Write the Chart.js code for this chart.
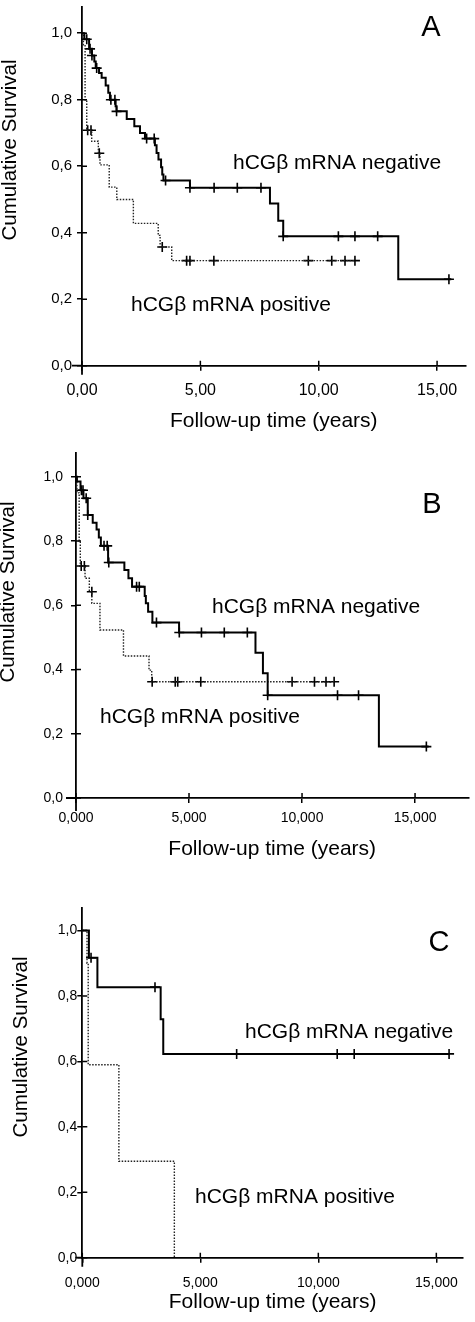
<!DOCTYPE html>
<html>
<head>
<meta charset="utf-8">
<script src="https://cdn.jsdelivr.net/npm/chart.js@4.4.1/dist/chart.umd.min.js"></script>
<style>
  body { margin: 0; background: #fff; }
  #wrap { position: relative; width: 475px; height: 1322px; }
  canvas { position: absolute; left: 0; }
</style>
</head>
<body>
<div id="wrap">
  <canvas id="chart_a" width="475" height="440" style="top:0px"></canvas>
  <canvas id="chart_b" width="475" height="430" style="top:440px"></canvas>
  <canvas id="chart_c" width="475" height="452" style="top:870px"></canvas>
</div>
<script>
const FONT = '"Liberation Sans", Arial, Helvetica, sans-serif';

// axis ticks
const yTickValues = [0, 0.2, 0.4, 0.6, 0.8, 1.0];
const yTickLabels = ["0,0", "0,2", "0,4", "0,6", "0,8", "1,0"];
const xTickValues = [0, 5, 10, 15];
const xTickLabelsA = ["0,00", "5,00", "10,00", "15,00"];
const xTickLabelsBC = ["0,000", "5,000", "10,000", "15,000"];

// panel A  (step points: time of the drop, survival after it)
const aNegTime = [0, 0.10, 0.30, 0.42, 0.52, 0.58, 0.72, 0.83, 1.00, 1.11, 1.18, 1.42, 1.46, 1.89, 2.21, 2.45, 2.66, 3.08, 3.15, 3.23, 3.34, 3.39, 3.44, 4.56, 7.94, 8.29, 8.50, 13.36, 15.6];
const aNegSurv = [1.0, 0.982, 0.953, 0.933, 0.915, 0.895, 0.880, 0.866, 0.843, 0.821, 0.800, 0.780, 0.765, 0.742, 0.720, 0.700, 0.683, 0.663, 0.640, 0.620, 0.597, 0.575, 0.557, 0.535, 0.488, 0.436, 0.389, 0.260, 0.260];
const aNegCensTime = [0.20, 0.34, 0.42, 0.62, 1.22, 1.39, 1.46, 2.73, 3.05, 3.53, 4.56, 5.58, 6.56, 7.56, 8.50, 10.83, 11.53, 12.49, 15.50];
const aNegCensSurv = [0.982, 0.953, 0.933, 0.895, 0.800, 0.800, 0.765, 0.683, 0.683, 0.557, 0.535, 0.535, 0.535, 0.535, 0.389, 0.389, 0.389, 0.389, 0.260];
const aPosTime = [0, 0.06, 0.13, 0.20, 0.41, 0.69, 0.76, 1.15, 1.47, 2.17, 3.22, 3.30, 3.79, 11.53];
const aPosSurv = [1.0, 0.965, 0.800, 0.708, 0.675, 0.639, 0.604, 0.537, 0.500, 0.428, 0.392, 0.357, 0.316, 0.316];
const aPosCensTime = [0.24, 0.38, 0.73, 3.39, 4.42, 4.56, 5.57, 9.56, 10.55, 11.11, 11.53];
const aPosCensSurv = [0.708, 0.708, 0.639, 0.357, 0.316, 0.316, 0.316, 0.316, 0.316, 0.316, 0.316];

// panel B
const bNegTime = [0, 0.04, 0.20, 0.33, 0.52, 0.74, 0.91, 1.01, 1.10, 1.42, 2.14, 2.32, 2.48, 3.04, 3.09, 3.19, 3.38, 4.56, 7.94, 8.27, 8.48, 13.40, 15.60];
const bNegSurv = [1.0, 0.985, 0.958, 0.933, 0.881, 0.857, 0.836, 0.811, 0.785, 0.733, 0.710, 0.684, 0.658, 0.629, 0.606, 0.580, 0.546, 0.515, 0.452, 0.388, 0.320, 0.160, 0.160];
const bNegCensTime = [0.24, 0.31, 0.45, 0.52, 1.24, 1.38, 1.45, 2.68, 2.80, 3.56, 4.57, 5.55, 6.56, 7.58, 8.48, 11.57, 12.50, 15.50];
const bNegCensSurv = [0.958, 0.958, 0.933, 0.881, 0.785, 0.785, 0.733, 0.658, 0.658, 0.546, 0.515, 0.515, 0.515, 0.515, 0.320, 0.320, 0.320, 0.160];
const bPosTime = [0, 0.04, 0.14, 0.19, 0.40, 0.59, 0.70, 1.06, 2.10, 3.23, 3.35, 11.42];
const bPosSurv = [1.0, 0.950, 0.800, 0.722, 0.684, 0.642, 0.606, 0.523, 0.442, 0.398, 0.362, 0.362];
const bPosCensTime = [0.23, 0.37, 0.70, 3.37, 4.39, 4.50, 5.52, 9.56, 10.55, 11.06, 11.42];
const bPosCensSurv = [0.722, 0.722, 0.642, 0.362, 0.362, 0.362, 0.362, 0.362, 0.362, 0.362, 0.362];

// panel C
const cNegTime = [0, 0.28, 0.64, 3.32, 3.43, 15.54];
const cNegSurv = [1.0, 0.917, 0.827, 0.729, 0.623, 0.623];
const cNegCensTime = [0.37, 3.08, 6.54, 10.80, 11.52, 15.54];
const cNegCensSurv = [0.917, 0.827, 0.623, 0.623, 0.623, 0.623];
const cPosTime = [0, 0.20, 0.25, 1.55, 3.90];
const cPosSurv = [1.0, 0.900, 0.590, 0.295, 0.0];
const cPosCensTime = [];
const cPosCensSurv = [];

const NEG_LABEL = "hCGβ mRNA negative";
const POS_LABEL = "hCGβ mRNA positive";

function pts(t, s) {
    return t.map((x, i) => ({ x: x, y: s[i] }));
}

// axis overshoot, inner half of the ticks, panel letter and curve labels
function decor(p) {
    return {
        id: "decor",
        afterDraw(chart) {
            const ctx = chart.ctx;
            const { left, bottom } = chart.chartArea;
            const xs = chart.scales.x;
            const ys = chart.scales.y;
            ctx.save();
            ctx.strokeStyle = "#000";
            ctx.lineWidth = 1.8;
            ctx.beginPath();
            ctx.moveTo(left, bottom);
            ctx.lineTo(left, bottom + p.overY);
            ctx.moveTo(left, bottom);
            ctx.lineTo(left - p.overX, bottom);
            ctx.stroke();
            ctx.lineWidth = 1.5;
            ctx.beginPath();
            ys.ticks.forEach((t) => {
                const py = ys.getPixelForValue(t.value);
                ctx.moveTo(left, py);
                ctx.lineTo(left + 5, py);
            });
            xs.ticks.forEach((t) => {
                const px = xs.getPixelForValue(t.value);
                ctx.moveTo(px, bottom);
                ctx.lineTo(px, bottom - 5);
            });
            ctx.stroke();

            ctx.fillStyle = "#000";
            ctx.textBaseline = "middle";
            p.texts.forEach((t) => {
                ctx.font = t.size + "px " + FONT;
                ctx.textAlign = t.align || "left";
                ctx.fillText(t.text, t.x, t.y);
            });

            ctx.translate(p.yTitle.x, p.yTitle.y);
            ctx.rotate(-Math.PI / 2);
            ctx.textAlign = "center";
            ctx.font = "20.5px " + FONT;
            ctx.fillText("Cumulative Survival", 0, 0);
            ctx.restore();
        },
    };
}

function makeChart(canvas, p) {
    return new Chart(canvas, {
        type: "line",
        data: {
            datasets: [
                {
                    data: pts(p.negTime, p.negSurv),
                    stepped: true,
                    borderColor: "#000",
                    borderWidth: 2,
                    pointRadius: 0,
                    clip: false,
                },
                {
                    data: pts(p.posTime, p.posSurv),
                    stepped: true,
                    borderColor: "#222",
                    borderWidth: 1.4,
                    borderDash: [1.5, 1.5],
                    pointRadius: 0,
                    clip: false,
                },
                {
                    data: pts(p.negCensTime, p.negCensSurv),
                    showLine: false,
                    pointStyle: "cross",
                    pointRadius: 5,
                    pointBorderWidth: 1.6,
                    pointBorderColor: "#000",
                    clip: false,
                },
                {
                    data: pts(p.posCensTime, p.posCensSurv),
                    showLine: false,
                    pointStyle: "cross",
                    pointRadius: 5,
                    pointBorderWidth: 1.6,
                    pointBorderColor: "#000",
                    clip: false,
                },
            ],
        },
        options: {
            responsive: false,
            animation: false,
            events: [],
            layout: {
                padding: { left: 0, top: p.top, right: 475 - p.right, bottom: 0 },
            },
            plugins: {
                legend: { display: false },
                tooltip: { enabled: false },
            },
            scales: {
                x: {
                    type: "linear",
                    min: 0,
                    max: p.xMax,
                    afterBuildTicks: (s) => {
                        s.ticks = xTickValues.map((v) => ({ value: v }));
                    },
                    afterFit: (s) => {
                        s.height = p.height - p.bottom;
                        s.paddingLeft = 0;
                        s.paddingRight = 0;
                    },
                    ticks: {
                        callback: (v, i) => p.xLabels[i],
                        font: { family: FONT, size: p.xTickSize },
                        color: "#000",
                        padding: p.xTickPad,
                        maxRotation: 0,
                        autoSkip: false,
                    },
                    grid: {
                        display: true,
                        drawOnChartArea: false,
                        drawTicks: true,
                        tickLength: 5,
                        color: "#000",
                        lineWidth: 1.5,
                    },
                    border: { display: true, color: "#000", width: 1.8 },
                    title: {
                        display: true,
                        text: "Follow-up time (years)",
                        font: { family: FONT, size: 21 },
                        color: "#000",
                        padding: { top: 0, bottom: p.xTitlePad },
                    },
                },
                y: {
                    type: "linear",
                    min: 0,
                    max: p.yMax,
                    afterBuildTicks: (s) => {
                        s.ticks = yTickValues.map((v) => ({ value: v }));
                    },
                    afterFit: (s) => {
                        s.width = p.left;
                        s.paddingTop = 0;
                        s.paddingBottom = 0;
                    },
                    ticks: {
                        callback: (v, i) => yTickLabels[i],
                        font: { family: FONT, size: p.yTickSize },
                        color: "#000",
                        padding: p.yTickPad,
                        autoSkip: false,
                    },
                    grid: {
                        display: true,
                        drawOnChartArea: false,
                        drawTicks: true,
                        tickLength: 5,
                        color: "#000",
                        lineWidth: 1.5,
                    },
                    border: { display: true, color: "#000", width: 1.8 },
                },
            },
        },
        plugins: [decor(p)],
    });
}

makeChart(document.getElementById("chart_a"), {
    negTime: aNegTime, negSurv: aNegSurv, negCensTime: aNegCensTime, negCensSurv: aNegCensSurv,
    posTime: aPosTime, posSurv: aPosSurv, posCensTime: aPosCensTime, posCensSurv: aPosCensSurv,
    xLabels: xTickLabelsA,
    height: 440, left: 82, top: 1, bottom: 365.7, right: 465.5, xMax: 16.2, yMax: 1.08,
    xTickSize: 16, xTickPad: 10, yTickSize: 15, yTickPad: 5, xTitlePad: 6,
    overX: 10, overY: 9,
    yTitle: { x: 10, y: 150 },
    texts: [
        { text: "A", x: 431, y: 28, size: 29, align: "center" },
        { text: NEG_LABEL, x: 233, y: 163, size: 21 },
        { text: POS_LABEL, x: 131, y: 305, size: 21 },
    ],
});

makeChart(document.getElementById("chart_b"), {
    negTime: bNegTime, negSurv: bNegSurv, negCensTime: bNegCensTime, negCensSurv: bNegCensSurv,
    posTime: bPosTime, posSurv: bPosSurv, posCensTime: bPosCensTime, posCensSurv: bPosCensSurv,
    xLabels: xTickLabelsBC,
    height: 430, left: 76, top: 13, bottom: 358, right: 475, xMax: 17.36, yMax: 1.074,
    xTickSize: 14, xTickPad: 7, yTickSize: 14, yTickPad: 8, xTitlePad: 8,
    overX: 10, overY: 13,
    yTitle: { x: 8, y: 152 },
    texts: [
        { text: "B", x: 432, y: 65, size: 29, align: "center" },
        { text: NEG_LABEL, x: 212, y: 167, size: 21 },
        { text: POS_LABEL, x: 100, y: 277, size: 21 },
    ],
});

makeChart(document.getElementById("chart_c"), {
    negTime: cNegTime, negSurv: cNegSurv, negCensTime: cNegCensTime, negCensSurv: cNegCensSurv,
    posTime: cPosTime, posSurv: cPosSurv, posCensTime: cPosCensTime, posCensSurv: cPosCensSurv,
    xLabels: xTickLabelsBC,
    height: 452, left: 82.3, top: 38, bottom: 387.7, right: 463, xMax: 16.13, yMax: 1.069,
    xTickSize: 14, xTickPad: 12, yTickSize: 14, yTickPad: 0, xTitlePad: 7,
    overX: 7, overY: 9,
    yTitle: { x: 21, y: 177 },
    texts: [
        { text: "C", x: 439, y: 73, size: 29, align: "center" },
        { text: NEG_LABEL, x: 245, y: 162, size: 21 },
        { text: POS_LABEL, x: 195, y: 327, size: 21 },
    ],
});
</script>
</body>
</html>
